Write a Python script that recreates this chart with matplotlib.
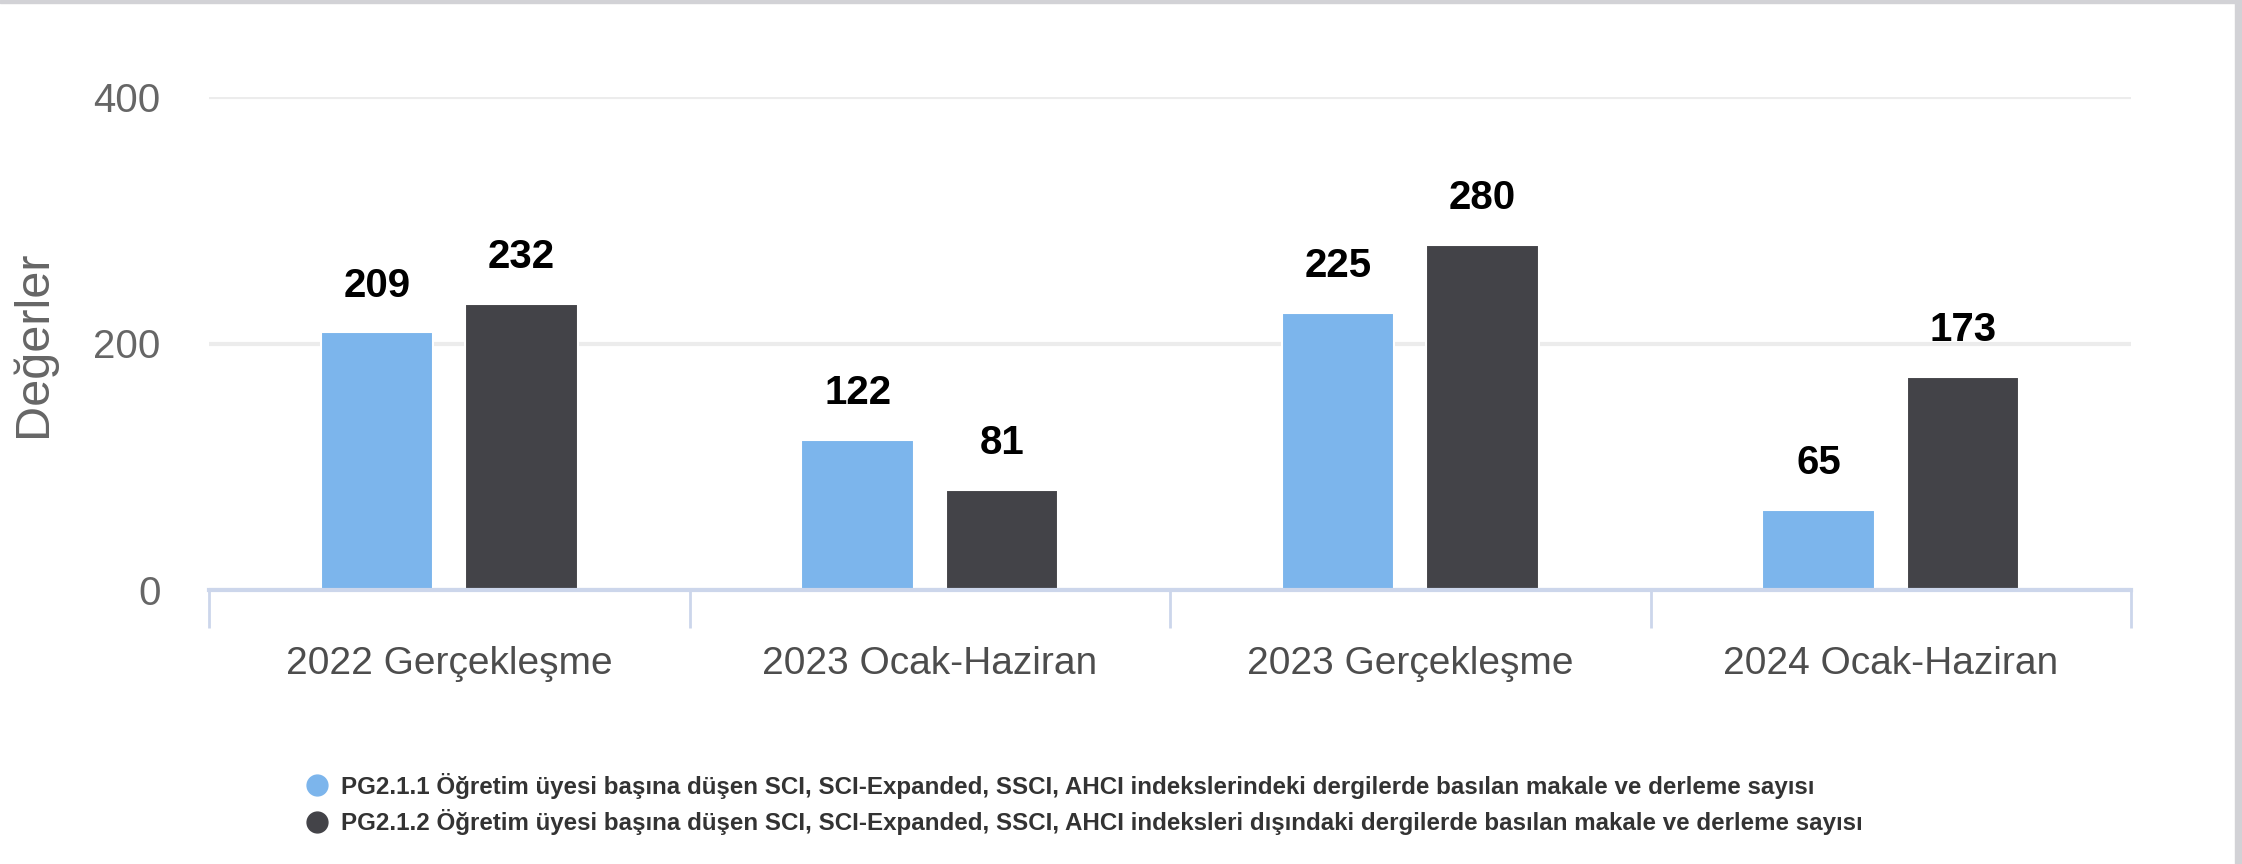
import numpy as np
import matplotlib
matplotlib.use('Agg')
import matplotlib.pyplot as plt
from matplotlib.lines import Line2D
from matplotlib.patches import Rectangle

plt.rcParams['font.family'] = ['Liberation Sans', 'DejaVu Sans']

# veriler
categories = ['2022 Gerçekleşme', '2023 Ocak-Haziran', '2023 Gerçekleşme', '2024 Ocak-Haziran']
pg211 = [209, 122, 225, 65]
pg212 = [232, 81, 280, 173]
series_names = [
    'PG2.1.1 Öğretim üyesi başına düşen SCI, SCI-Expanded, SSCI, AHCI indekslerindeki dergilerde basılan makale ve derleme sayısı',
    'PG2.1.2 Öğretim üyesi başına düşen SCI, SCI-Expanded, SSCI, AHCI indeksleri dışındaki dergilerde basılan makale ve derleme sayısı',
]
colors = ['#7cb5ec', '#434348']
yticks = [0, 200, 400]

fig = plt.figure(figsize=(22.42, 8.64), dpi=100)
ax = fig.add_axes([209 / 2242, 1 - 590 / 864, (2131 - 209) / 2242, (590 - 97) / 864])

x = np.arange(len(categories))
w = 0.234
off = 0.15
for vals, c, d in zip([pg211, pg212], colors, [-off, off]):
    bars = ax.bar(x + d, vals, w, color=c, edgecolor='white', linewidth=1.5, zorder=3)
    for b, v in zip(bars, vals):
        ax.annotate(str(v), (b.get_x() + b.get_width() / 2, v), xytext=(0, 20),
                    textcoords='offset points', ha='center', va='bottom',
                    fontsize=29, fontweight='bold', color='black')

ax.set_xlim(-0.5, len(categories) - 0.5)
ax.set_ylim(0, 400)
ax.set_yticks(yticks)
ax.set_yticklabels([str(t) for t in yticks], fontsize=29, color='#666666')
ax.tick_params(axis='y', length=0, pad=35)
ax.grid(axis='y', color='#ececec', linewidth=3, zorder=0)

ax.set_xticks(x)
ax.set_xticklabels(categories, fontsize=28, color='#4d4d4d')
ax.set_xticks(np.arange(-0.5, len(categories)), minor=True)
ax.tick_params(axis='x', which='major', length=0, pad=40)
ax.tick_params(axis='x', which='minor', length=27, width=2, color='#ccd6eb')

for s in ['left', 'top', 'right']:
    ax.spines[s].set_visible(False)
ax.spines['bottom'].set_color('#ccd6eb')
ax.spines['bottom'].set_linewidth(3)
ax.spines['bottom'].set_zorder(4)

ax.set_ylabel('Değerler', fontsize=35, color='#666666')
ax.yaxis.set_label_coords((56 - 209) / (2131 - 209), 0.5)

handles = [Line2D([], [], marker='o', linestyle='none', markersize=15,
                  markerfacecolor=c, markeredgecolor=c) for c in colors]
leg = fig.legend(handles, series_names, loc='center left',
                 bbox_to_anchor=(304 / 2242, 60 / 864), frameon=False,
                 borderpad=0, borderaxespad=0, handlelength=1.05,
                 handletextpad=0.5, labelspacing=0.45,
                 prop={'size': 17.4, 'weight': 'bold'})
for t in leg.get_texts():
    t.set_color('#333333')

# kenarlıklar
fig.patches.append(Rectangle((0, 1 - 3 / 864), 1, 3 / 864, transform=fig.transFigure,
                             color='#d2d2d6', zorder=0))
fig.patches.append(Rectangle((1 - 7 / 2242, 0), 7 / 2242, 1, transform=fig.transFigure,
                             color='#d2d2d6', zorder=0))

fig.savefig('out.png', dpi=100)
